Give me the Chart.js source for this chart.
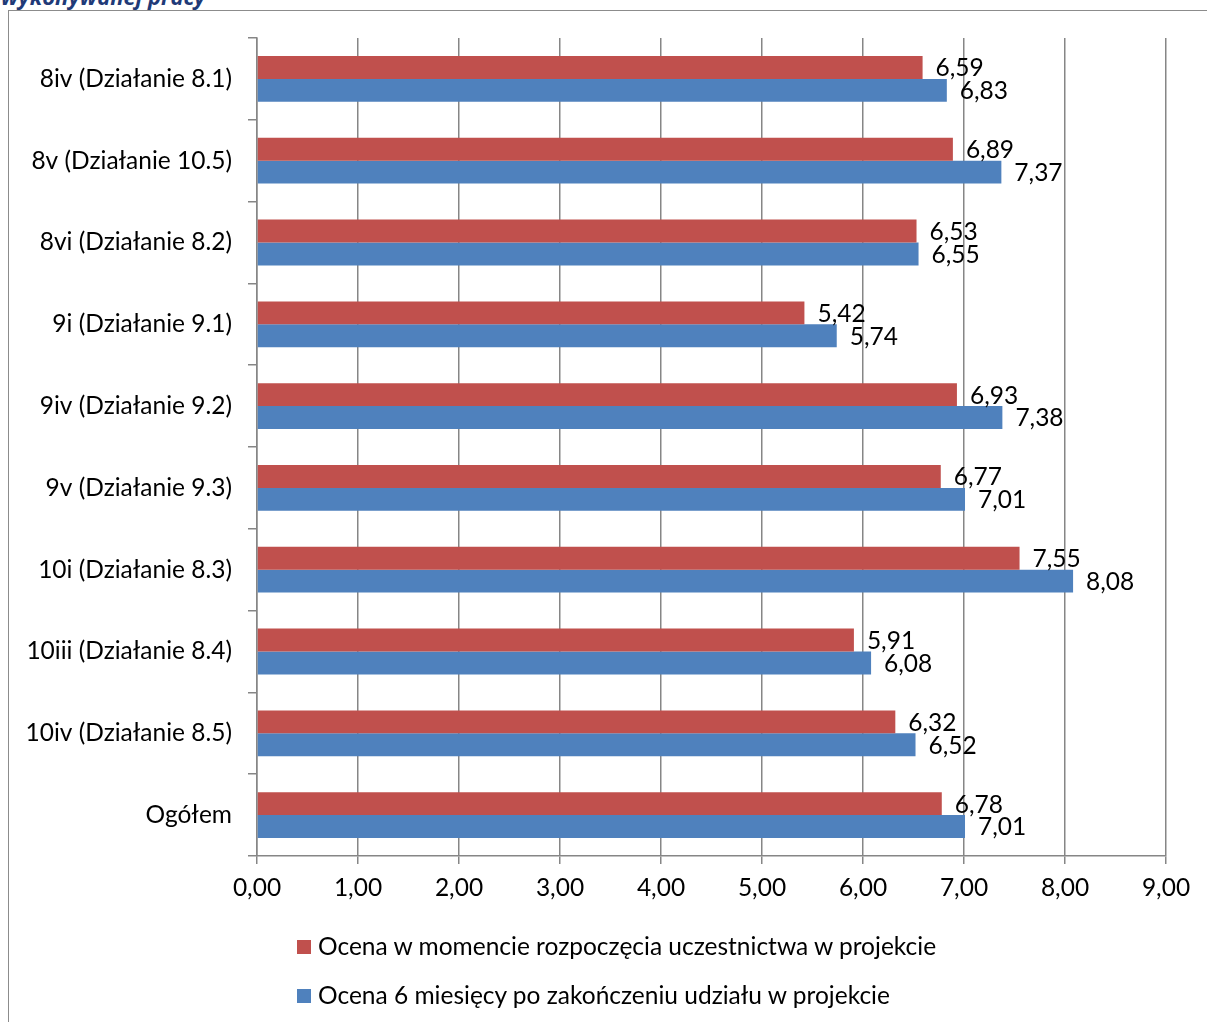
<!DOCTYPE html>
<html>
<head>
<meta charset="utf-8">
<script src="https://cdn.jsdelivr.net/npm/chart.js@4/dist/chart.umd.min.js"></script>
<style>
body { margin:0; background:#fff; overflow:hidden; }
#title { position:absolute; left:1px; top:-19px; font:italic bold 22px "Open Sans", sans-serif; color:#1f3a78; white-space:nowrap; }
#frame { position:absolute; left:8px; top:10px; width:1300px; height:1100px; border:1px solid #8c8c8c; }
#wrap { position:absolute; left:0; top:0; width:1207px; height:1022px; }
.leg { position:absolute; left:297px; font:24.5px Lato, sans-serif; color:#000; white-space:nowrap; }
.leg span { display:inline-block; width:14px; height:14px; margin-right:7px; vertical-align:1px; }
</style>
</head>
<body>
<div id="title">wykonywanej pracy</div>
<div id="frame"></div>
<div id="wrap"><canvas id="myChart"></canvas></div>
<div id="legend"></div>
<script>
// dane z wykresu
var categories = ["8iv (Działanie 8.1)", "8v (Działanie 10.5)", "8vi (Działanie 8.2)", "9i (Działanie 9.1)",
	"9iv (Działanie 9.2)", "9v (Działanie 9.3)", "10i (Działanie 8.3)", "10iii (Działanie 8.4)",
	"10iv (Działanie 8.5)", "Ogółem"];
var seriesNames = ["Ocena w momencie rozpoczęcia uczestnictwa w projekcie",
	"Ocena 6 miesięcy po zakończeniu udziału w projekcie"];
var startValues = [6.59, 6.89, 6.53, 5.42, 6.93, 6.77, 7.55, 5.91, 6.32, 6.78];
var afterValues = [6.83, 7.37, 6.55, 5.74, 7.38, 7.01, 8.08, 6.08, 6.52, 7.01];
var xTicks = [0, 1, 2, 3, 4, 5, 6, 7, 8, 9];

var barColors = ["#c0504d", "#4f81bd"];
var fontName = "Lato, sans-serif";
var fontSize = 24.5;

function fmt(v)
{
	return v.toFixed(2).replace(".", ",");
}

// etykiety wartosci przy koncach slupkow
var valueLabels = {
	id: "valueLabels",
	afterDatasetsDraw: function(chart)
	{
		var ctx = chart.ctx;
		ctx.save();
		ctx.font = fontSize + "px " + fontName;
		ctx.fillStyle = "#000";
		ctx.textAlign = "left";
		ctx.textBaseline = "middle";
		chart.data.datasets.forEach(function(ds, i)
		{
			var meta = chart.getDatasetMeta(i);
			meta.data.forEach(function(el, j)
			{
				ctx.fillText(fmt(ds.data[j]), el.x + 13, el.y + 1);
			});
		});
		ctx.restore();
	}
};

var myChart = new Chart("myChart",
{
	type: "bar",
	data:
	{
		labels: categories,
		datasets:
		[{
			label: seriesNames[0],
			data: startValues,
			backgroundColor: barColors[0]
		},
		{
			label: seriesNames[1],
			data: afterValues,
			backgroundColor: barColors[1]
		}]
	},
	options:
	{
		indexAxis: "y",
		responsive: true,
		maintainAspectRatio: false,
		animation: false,
		layout: { padding: { top: 38, right: 41, left: 0, bottom: 0 } },
		datasets: { bar: { categoryPercentage: 0.56, barPercentage: 1.0 } },
		plugins:
		{
			legend: { display: false },
			tooltip: { enabled: false }
		},
		scales:
		{
			x:
			{
				min: 0,
				max: 9,
				afterBuildTicks: function(scale)
				{
					scale.ticks = xTicks.map(function(v) { return { value: v }; });
				},
				afterFit: function(scale) { scale.height = 1022 - 856; },
				ticks:
				{
					color: "#000",
					font: { size: fontSize, family: fontName },
					padding: 9,
					maxRotation: 0,
					callback: function(v) { return fmt(v); }
				},
				grid: { color: "#868686", lineWidth: 1.5, tickLength: 8 },
				border: { color: "#868686", width: 1.5 }
			},
			y:
			{
				afterFit: function(scale) { scale.width = 257; },
				ticks:
				{
					color: "#000",
					font: { size: fontSize, family: fontName },
					padding: 16
				},
				grid: { offset: true, drawOnChartArea: false, color: "#868686", lineWidth: 1.5, tickLength: 9 },
				border: { color: "#868686", width: 1.5 }
			}
		}
	},
	plugins: [valueLabels]
});

// legenda pod wykresem
var legend = document.getElementById("legend");
var legendTop = [931, 980];
seriesNames.forEach(function(name, i)
{
	var d = document.createElement("div");
	d.className = "leg";
	d.style.top = legendTop[i] + "px";
	d.innerHTML = '<span style="background:' + barColors[i] + '"></span>' + name;
	legend.appendChild(d);
});
</script>
</body>
</html>
